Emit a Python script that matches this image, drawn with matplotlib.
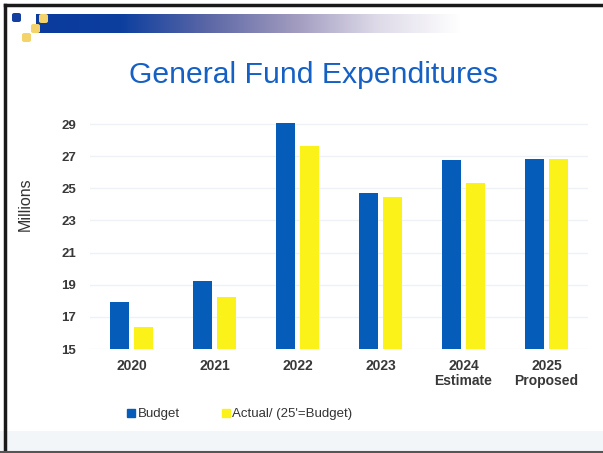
import matplotlib.pyplot as plt
import numpy as np
from matplotlib.colors import LinearSegmentedColormap
from matplotlib.lines import Line2D
from matplotlib.patches import FancyBboxPatch, Rectangle

plt.rcParams['font.family'] = ['Liberation Sans', 'DejaVu Sans']

years = ['2020', '2021', '2022', '2023', '2024\nEstimate', '2025\nProposed']
budget = [17.9, 19.25, 29.05, 24.7, 26.75, 26.8]
actual = [16.4, 18.25, 27.65, 24.45, 25.35, 26.8]
yticks = [15, 17, 19, 21, 23, 25, 27, 29]

blue = '#065cb9'
yellow = '#fbf21a'

fig = plt.figure(figsize=(6.03, 4.53), dpi=100)

# slide frame
fig.add_artist(Rectangle((0, 0), 1, 22 / 453, transform=fig.transFigure,
                         color='#f2f6f9', lw=0, zorder=0))
fig.add_artist(Line2D([4.5 / 603, 4.5 / 603], [0, 1 - 5 / 453], transform=fig.transFigure,
                      color='#1a1a1a', lw=2.5))
fig.add_artist(Line2D([4.5 / 603, 1], [1 - 5 / 453, 1 - 5 / 453], transform=fig.transFigure,
                      color='#1a1a1a', lw=2.5))
fig.add_artist(Line2D([0, 1], [1.5 / 453, 1.5 / 453], transform=fig.transFigure,
                      color='#555555', lw=1.5))

# gradient banner
band = fig.add_axes([36 / 603, 1 - 33 / 453, 425 / 603, 19 / 453])
cmap = LinearSegmentedColormap.from_list('band', ['#0a3b9d', '#0d3f9f', '#5a66a6', '#9d98bd', '#ddd9e8', '#ffffff'])
band.imshow(np.linspace(0, 1, 256)[None, :], aspect='auto', cmap=cmap, extent=[0, 1, 0, 1])
band.axis('off')

for (x, y, c) in [(12, 13, '#1340a0'), (39, 14, '#f3d36a'), (31, 24, '#f3d36a'), (22, 33, '#f3d36a')]:
    fig.add_artist(FancyBboxPatch((x / 603, 1 - (y + 9) / 453), 9 / 603, 9 / 453,
                                  boxstyle='round,pad=0,rounding_size=0.004',
                                  transform=fig.transFigure, color=c, lw=0, zorder=5))

fig.text(0.5205, 1 - 75 / 453, 'General Fund Expenditures', ha='center', va='center',
         fontsize=21.7, color='#1560c4')

ax = fig.add_axes([90 / 603, 1 - 349 / 453, 498 / 603, 241 / 453])
x = np.arange(len(years))
w = 0.235
ax.bar(x - 0.147, budget, w, color=blue, label='Budget', zorder=3)
ax.bar(x + 0.147, actual, w, color=yellow, label="Actual/ (25'=Budget)", zorder=3)

ax.set_xlim(-0.5, 5.5)
ax.set_ylim(15, 30)
ax.set_yticks(yticks)
ax.set_xticks(x)
ax.set_xticklabels(years, fontsize=10, fontweight='bold', color='#383838', linespacing=1.15)
ax.tick_params(axis='y', labelsize=9.5, labelcolor='#383838', length=0, pad=10)
ax.tick_params(axis='x', length=0, pad=7)
for lab in ax.get_yticklabels():
    lab.set_fontweight('bold')
ax.grid(axis='y', color='#eef2f7', lw=1, zorder=0)
for s in ax.spines.values():
    s.set_visible(False)
ax.set_ylabel('Millions', fontsize=11.5, color='#333333')
ax.yaxis.set_label_coords(-0.114, 0.60)

handles = [Line2D([], [], marker='s', ls='', color=blue, markersize=6),
           Line2D([], [], marker='s', ls='', color=yellow, markersize=6)]
fig.legend(handles, ['Budget', "Actual/ (25'=Budget)"], loc='center left',
           bbox_to_anchor=(115 / 603, 1 - 414 / 453), ncol=2, frameon=False,
           fontsize=9.5, handlelength=0.6, handletextpad=0.2, columnspacing=3.2,
           labelcolor='#333333')

fig.savefig('out.png', dpi=100)
